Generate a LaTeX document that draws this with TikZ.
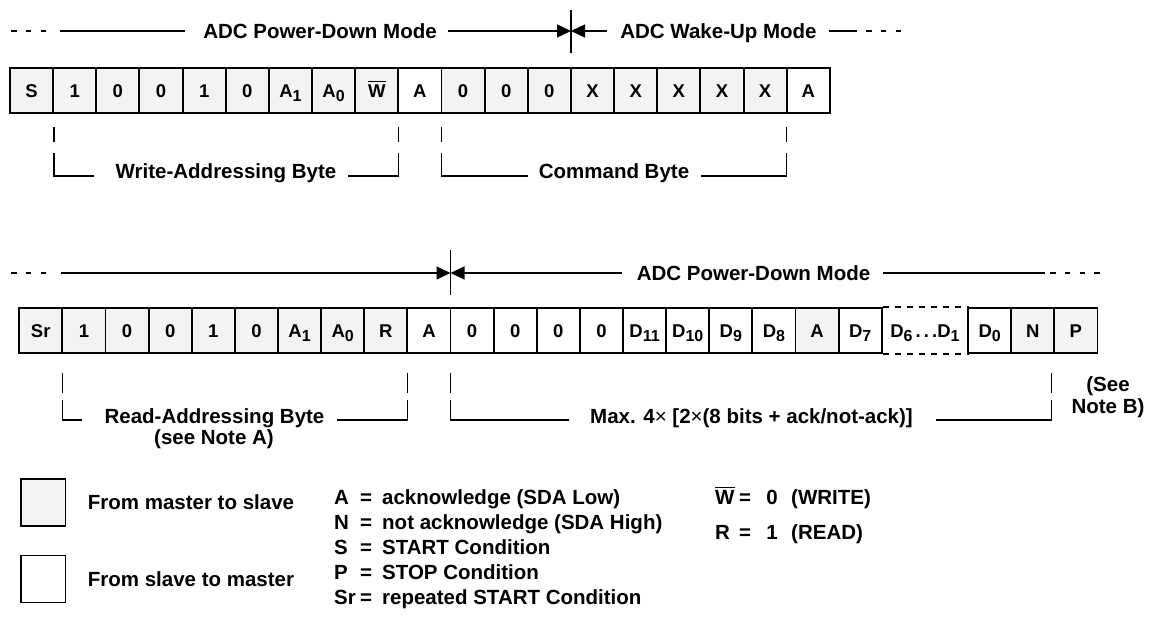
\documentclass[tikz,border=0pt]{standalone}
\usepackage{fontspec}
\setmainfont{Liberation Sans}
\usetikzlibrary{arrows.meta}
\definecolor{mfill}{RGB}{243,243,243}
\newcommand{\subx}[1]{\raisebox{-0.45ex}{\fontsize{16}{16}\selectfont #1}}
\newcommand{\ovlx}[1]{\vbox{\hrule height 1.1pt\kern 2pt\hbox{#1}}}
\begin{document}
\begin{tikzpicture}[x=1pt,y=-1pt,
  every node/.style={font=\bfseries\fontsize{20.5}{22}\selectfont, inner sep=0pt},
  lbl/.style={text height=14.7pt, text depth=0pt, anchor=center},
  cell/.style={draw, line width=1.9pt, minimum width=43.14pt, minimum height=45pt,
    inner sep=0pt, text height=13.3pt, text depth=0pt,
    font=\bfseries\fontsize{18.5}{18}\selectfont},
  ln/.style={line width=1.4pt},
  dsh/.style={line width=1.4pt, dash pattern=on 5.5pt off 9.3pt},
  arr/.style={-{Triangle[length=14pt,width=13pt]}, line width=1.4pt},
  legbox/.style={draw, line width=1.9pt, minimum width=44.5pt, minimum height=47pt}
]
\useasboundingbox (0,0) rectangle (1149,618);

% ---------------- top section ----------------
\draw[dsh] (11,31) -- (47,31);
\draw[ln] (60,31) -- (185,31);
\node[lbl] (pd1) at (320,31) {ADC Power-Down Mode};
\coordinate (j1) at (571,31);
\draw[arr] (448,31) -- (j1);
\draw[arr] (607,31) -- (j1);
\draw[ln] (571,10) -- (571,53);
\node[lbl] (wu) at (718.5,31) {ADC Wake-Up Mode};
\draw[ln] (829,31) -- (857,31);
\draw[dsh] (866,31) -- (902,31);

\foreach \t/\f [count=\i from 0] in {S/mfill,1/mfill,0/mfill,0/mfill,1/mfill,0/mfill,
  A\subx{1}/mfill,A\subx{0}/mfill,\ovlx{W}/mfill,A/white,0/mfill,0/mfill,0/mfill,
  X/mfill,X/mfill,X/mfill,X/mfill,X/mfill,A/white}
  \node[cell, fill=\f] (t\i) at ({10+43.15*(\i+0.5)},90.5) {\t};

% brackets top
\draw[ln] (54.15,127) -- (54.15,142);
\draw[ln] (54.15,153) -- (54.15,176) -- (94,176);
\node[lbl] (wab) at (226,171) {Write-Addressing Byte};
\draw[ln] (348,176) -- (398.35,176) -- (398.35,153);
\draw[ln] (398.35,127) -- (398.35,142);

\draw[ln] (441.5,127) -- (441.5,142);
\draw[ln] (441.5,153) -- (441.5,176) -- (528,176);
\node[lbl] (cb) at (614,171) {Command Byte};
\draw[ln] (701,176) -- (786.7,176) -- (786.7,153);
\draw[ln] (786.7,127) -- (786.7,142);

% ---------------- bottom section ----------------
\draw[dsh] (11,273) -- (47,273);
\coordinate (j2) at (450.5,273);
\draw[arr] (61,273) -- (j2);
\draw[arr] (622,273) -- (j2);
\draw[ln] (450.5,250) -- (450.5,295);
\node[lbl] (pd2) at (753.5,273) {ADC Power-Down Mode};
\draw[ln] (883,273) -- (1045,273);
\draw[dsh] (1050,273) -- (1100,273);

\foreach \t/\f [count=\i from 0] in {Sr/mfill,1/mfill,0/mfill,0/mfill,1/mfill,0/mfill,
  A\subx{1}/mfill,A\subx{0}/mfill,R/mfill,A/white,0/white,0/white,0/white,0/white,
  D\subx{11}/white,D\subx{10}/white,D\subx{9}/white,D\subx{8}/white,A/mfill,D\subx{7}/white}
  \node[cell, fill=\f] (b\i) at ({19.2+43.13*(\i+0.5)},330.5) {\t};
\node[cell, draw=none, minimum width=86.26pt] (bd) at ({19.2+43.13*21},330.5)
  {D\subx{6}\,.\,.\,.D\subx{1}};
\draw[line width=1.9pt, dash pattern=on 6pt off 6pt] (b19.north east) -- (bd.north east);
\draw[line width=1.9pt, dash pattern=on 6pt off 6pt] (b19.south east) -- (bd.south east);
\node[cell, fill=white] (b22) at ({19.2+43.13*22.5},330.5) {D\subx{0}};
\node[cell, fill=mfill] (b23) at ({19.2+43.13*23.5},330.5) {N};
\node[cell, fill=mfill] (b24) at ({19.2+43.13*24.5},330.5) {P};

% brackets bottom
\draw[ln] (62.33,373) -- (62.33,393);
\draw[ln] (62.33,400) -- (62.33,420) -- (82,420);
\node[lbl] (rab) at (214.5,416) {Read-Addressing Byte};
\node[lbl] (rab2) at (214,437) {(see Note A)};
\draw[ln] (337,420) -- (407.45,420) -- (407.45,400);
\draw[ln] (407.45,373) -- (407.45,393);

\draw[ln] (450.5,373) -- (450.5,393);
\draw[ln] (450.5,400) -- (450.5,420) -- (569,420);
\node[lbl] (mx) at (751.5,416) {Max. 4{\mdseries\texttimes} [2{\mdseries\texttimes}(8 bits + ack/not-ack)]};
\draw[ln] (936,420) -- (1051.2,420) -- (1051.2,400);
\draw[ln] (1051.2,373) -- (1051.2,393);
\node[lbl] (nb1) at (1108,384) {(See};
\node[lbl] (nb2) at (1108,406) {Note B)};

% ---------------- legend ----------------
\node[legbox, fill=mfill] (m2s) at (43.25,502.5) {};
\node[legbox, fill=white] (s2m) at (43.25,579) {};
\node[lbl, anchor=west] (m2st) at (87.7,502.5) {From master to slave};
\node[lbl, anchor=west] (s2mt) at (87.7,579) {From slave to master};

\foreach \s/\d/\y [count=\k] in {A/acknowledge (SDA Low)/497,
  N/not acknowledge (SDA High)/522, S/START Condition/547,
  P/STOP Condition/572, Sr/repeated START Condition/597}{
  \node[lbl, anchor=west] (ls\k) at (334,\y) {\s};
  \node[lbl] (le\k) at (366,\y) {=};
  \node[lbl, anchor=west] (ld\k) at (382,\y) {\d};
}
\node[lbl, anchor=west] (wl) at (715,497) {\ovlx{W}};
\node[lbl] (wle) at (745,497) {=};
\node[lbl] (wlv) at (772,497) {0};
\node[lbl, anchor=west] (wld) at (791,497) {(WRITE)};
\node[lbl, anchor=west] (rl) at (715,532) {R};
\node[lbl] (rle) at (745,532) {=};
\node[lbl] (rlv) at (772,532) {1};
\node[lbl, anchor=west] (rld) at (791,532) {(READ)};
\end{tikzpicture}
\end{document}
